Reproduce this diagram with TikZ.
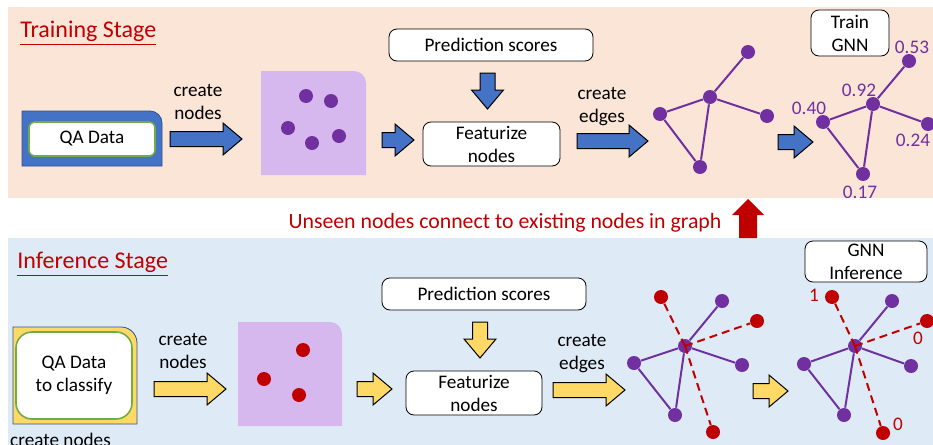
\documentclass[tikz,border=0pt]{standalone}
\usepackage{fontspec}
\setmainfont{Carlito}
\definecolor{peach}{HTML}{FBE5D6}
\definecolor{paleblue}{HTML}{DEEBF7}
\definecolor{lavender}{HTML}{D6B8EE}
\definecolor{violetdot}{HTML}{7030A0}
\definecolor{darkred}{HTML}{C00000}
\definecolor{arrowblue}{HTML}{4472C4}
\definecolor{edgeblue}{HTML}{2F528F}
\definecolor{arrowyellow}{HTML}{FFD966}
\definecolor{boxgreen}{HTML}{70AD47}

\tikzset{pics/blockarrow/.style={code={
	\path[pic actions] (0pt,-3.75pt) -- (#1-9.5pt,-3.75pt) -- (#1-9.5pt,-8pt) -- (#1,0pt)
		-- (#1-9.5pt,8pt) -- (#1-9.5pt,3.75pt) -- (0pt,3.75pt) -- cycle;}}}

\begin{document}
\begin{tikzpicture}[x=0.5pt,y=-0.5pt,
			font=\fontsize{9.6}{11.5}\selectfont,
			title/.style={font=\fontsize{12}{14}\selectfont,text=darkred,inner sep=0pt},
			box/.style={draw,fill=white,rounded corners=4pt,align=center,inner sep=0pt},
			databox/.style={draw=boxgreen,fill=white,line width=0.8pt,align=center,inner sep=0pt},
			txt/.style={align=center,inner sep=0pt},
			blue arrow/.style={draw=black,line width=0.5pt,fill=arrowblue},
			yellow arrow/.style={draw=black,line width=0.5pt,fill=arrowyellow},
			dot/.style={circle,fill=violetdot,inner sep=0pt,minimum size=7pt},
			reddot/.style={circle,fill=darkred,inner sep=0pt,minimum size=7pt},
			edge/.style={violetdot,line width=1pt},
			newedge/.style={darkred,line width=1pt,dash pattern=on 4pt off 2.5pt},
			score/.style={text=violetdot,inner sep=0pt},
			cls/.style={text=darkred,inner sep=0pt}]
			\useasboundingbox (0,0) rectangle (933,445);
			\fill[peach] (8,7) rectangle (933,198);
			\fill[paleblue] (8,238) rectangle (933,445);
			
			\node[title,anchor=base west] (train) at (20,37) {\underline{Training Stage}};
			\draw[fill=arrowblue,draw=edgeblue] (22,166) -- (22,111) [rounded corners=6pt] -- (162,111) [sharp corners] -- (162,166) -- cycle;
			\node[databox,rounded corners=3pt,minimum width=63pt,minimum height=17pt] (qa) at (92,139) {QA Data};
			\node[txt] (cn) at (198,101.5) {create\\nodes};
			\pic[blue arrow] at (170,139) {blockarrow=36pt};
			\fill[lavender] (261,175) -- (261,71) [rounded corners=6pt] -- (366,71) [sharp corners] -- (366,175) -- cycle;
			\foreach \x/\y [count=\i] in {306/96,331/101,288/128,312/143,339/136}
				\node[dot] (s\i) at (\x,\y) {};
			\pic[blue arrow] at (382,140) {blockarrow=16pt};
			\node[box,minimum width=102pt,minimum height=16pt] (ps) at (491,45) {Prediction scores};
			\pic[blue arrow,rotate=-90] at (487.5,73) {blockarrow=18pt};
			\node[box,minimum width=68.5pt,minimum height=22pt] (fn) at (491.5,144) {Featurize\\nodes};
			\node[txt] (ce) at (602,107) {create\\edges};
			\pic[blue arrow] at (577,141) {blockarrow=35.5pt};
			
			\node[dot] (g1a) at (748,52) {};
			\node[dot] (g1c) at (710,97) {};
			\node[dot] (g1l) at (660,114) {};
			\node[dot] (g1r) at (767,116) {};
			\node[dot] (g1b) at (700,167) {};
			\draw[edge] (g1c) -- (g1a) (g1c) -- (g1l) (g1c) -- (g1r) (g1c) -- (g1b) (g1l) -- (g1b);
			\pic[blue arrow] at (778,142) {blockarrow=17.5pt};
			\node[box,minimum width=39pt,minimum height=23pt] (tg) at (850,33) {Train\\GNN};
			\node[dot] (g2a) at (909,61) {};
			\node[dot] (g2c) at (873,104) {};
			\node[dot] (g2l) at (823,122) {};
			\node[dot] (g2r) at (928,124) {};
			\node[dot] (g2b) at (863,174) {};
			\draw[edge] (g2c) -- (g2a) (g2c) -- (g2l) (g2c) -- (g2r) (g2c) -- (g2b) (g2l) -- (g2b);
			\node[score] (v1) at (912,47) {0.53};
			\node[score] (v2) at (859,90) {0.92};
			\node[score] (v3) at (809,108) {0.40};
			\node[score] (v4) at (913,140) {0.24};
			\node[score] (v5) at (860,192) {0.17};
			
			\node[font=\fontsize{10.9}{13}\selectfont,text=darkred,inner sep=0pt] (msg) at (505,223) {Unseen nodes connect to existing nodes in graph};
			\fill[darkred] (739,238) -- (739,215) -- (732,215) -- (748,199) -- (764,215) -- (757,215) -- (757,238) -- cycle;
			
			\node[title,anchor=base west] (infer) at (17,268) {\underline{Inference Stage}};
			\draw[fill=arrowyellow,draw=edgeblue] (13,424) -- (13,327) [rounded corners=8pt] -- (137,327) [sharp corners] -- (137,424) -- cycle;
			\node[databox,rounded corners=8pt,minimum width=58pt,minimum height=43.5pt] (qc) at (74,375.5) {QA Data\\to classify};
			\node[anchor=base,inner sep=0pt] (cn0) at (60.5,446) {create nodes};
			\node[txt] (cn2) at (183,350.5) {create\\nodes};
			\pic[yellow arrow] at (154,389) {blockarrow=36pt};
			\fill[lavender] (238,426) -- (238,322) [rounded corners=6pt] -- (342,322) [sharp corners] -- (342,426) -- cycle;
			\foreach \x/\y [count=\i] in {303/350,264/379,299/395}
				\node[reddot] (t\i) at (\x,\y) {};
			\pic[yellow arrow] at (357,389) {blockarrow=17.5pt};
			\node[box,minimum width=102pt,minimum height=16pt] (ps2) at (484,294) {Prediction scores};
			\pic[yellow arrow,rotate=-90] at (480,322) {blockarrow=18pt};
			\node[box,minimum width=68pt,minimum height=22pt] (fn2) at (474,393) {Featurize\\nodes};
			\node[txt] (ce2) at (582,353.5) {create\\edges};
			\pic[yellow arrow] at (553,390) {blockarrow=36pt};
			
			\node[dot] (h1a) at (722,301) {};
			\node[dot] (h1c) at (685,346) {};
			\node[dot] (h1l) at (634,363) {};
			\node[dot] (h1r) at (742,365) {};
			\node[dot] (h1b) at (675,415) {};
			\node[reddot] (h1u) at (661,297) {};
			\node[reddot] (h1v) at (757,321) {};
			\node[reddot] (h1w) at (713,432) {};
			\draw[edge] (h1c) -- (h1a) (h1c) -- (h1l) (h1c) -- (h1r) (h1c) -- (h1b) (h1l) -- (h1b);
			\draw[newedge] (h1c.center) -- (h1u) (h1c.center) -- (h1v) (h1c.center) -- (h1w);
			\pic[yellow arrow] at (753,391) {blockarrow=17.5pt};
			\node[box,minimum width=61pt,minimum height=20.5pt] (gi) at (866,261.5) {GNN\\Inference};
			\node[dot] (h2a) at (892,301) {};
			\node[dot] (h2c) at (855,346) {};
			\node[dot] (h2l) at (804,364) {};
			\node[dot] (h2r) at (911,366) {};
			\node[dot] (h2b) at (844,415) {};
			\node[reddot] (h2u) at (832,297) {};
			\node[reddot] (h2v) at (927,321) {};
			\node[reddot] (h2w) at (883,433) {};
			\draw[edge] (h2c) -- (h2a) (h2c) -- (h2l) (h2c) -- (h2r) (h2c) -- (h2b) (h2l) -- (h2b);
			\draw[newedge] (h2c.center) -- (h2u) (h2c.center) -- (h2v) (h2c.center) -- (h2w);
			\node[cls] (c1) at (814,295) {1};
			\node[cls] (c2) at (918,338) {0};
			\node[cls] (c3) at (898,424) {0};
\end{tikzpicture}
\end{document}
